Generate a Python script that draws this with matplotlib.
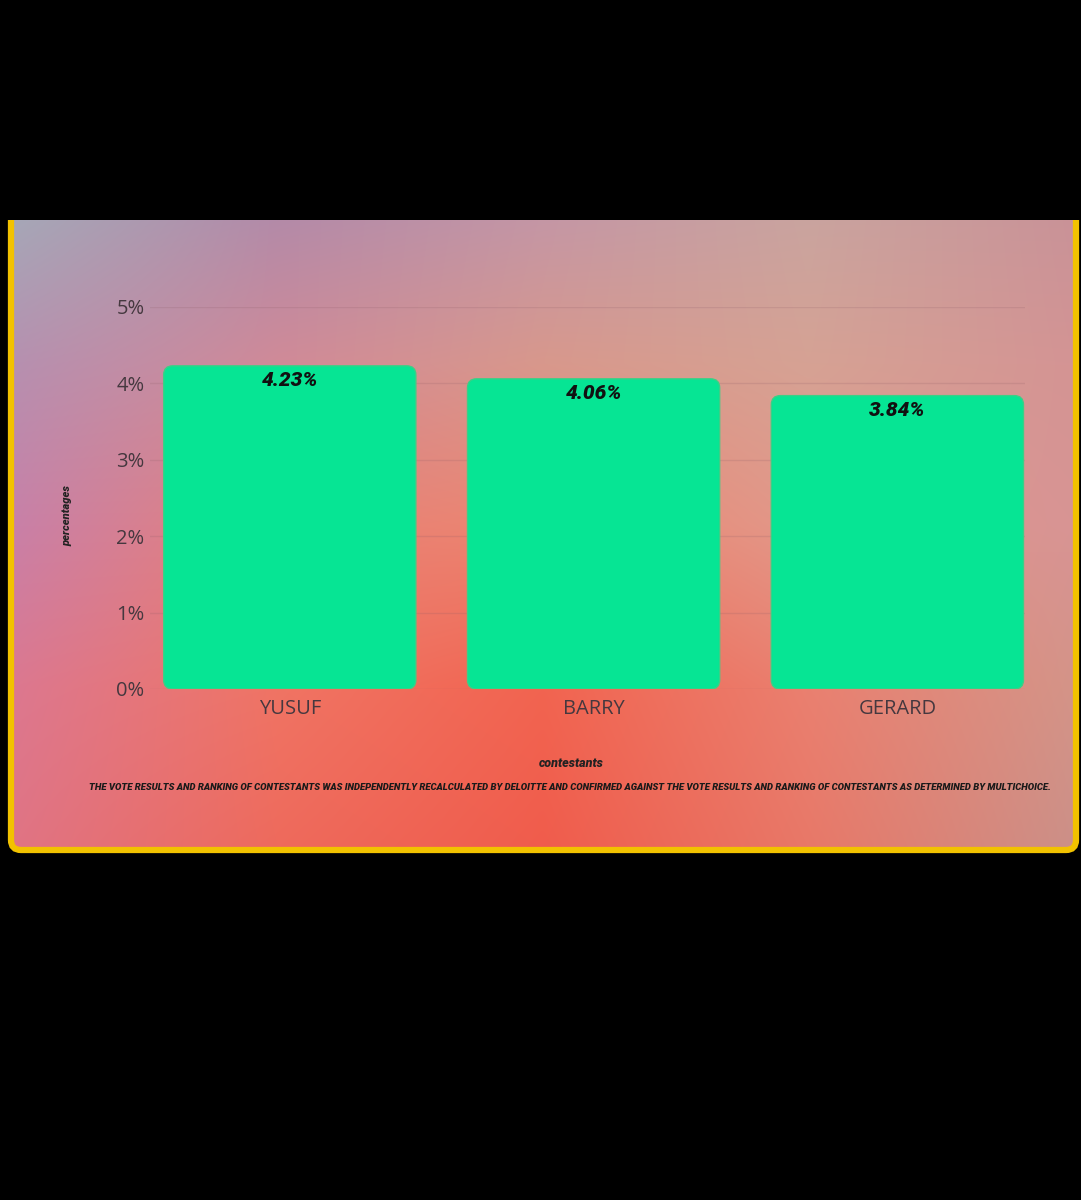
import numpy as np
import matplotlib
matplotlib.use("Agg")
import matplotlib.pyplot as plt
from matplotlib.patches import FancyBboxPatch, Rectangle
from matplotlib.colors import to_rgb

contestants = ["YUSUF", "BARRY", "GERARD"]
percentages = [4.23, 4.06, 3.84]
yticks = [0, 1, 2, 3, 4, 5]
footnote = ("THE VOTE RESULTS AND RANKING OF CONTESTANTS WAS INDEPENDENTLY RECALCULATED BY DELOITTE "
            "AND CONFIRMED AGAINST THE VOTE RESULTS AND RANKING OF CONTESTANTS AS DETERMINED BY MULTICHOICE.")

# background colour control points (rows top->bottom, cols left->right)
bg_pts = [
    ["#a4aab8", "#b08aaa", "#c296a8", "#c8a4a0", "#c89298"],
    ["#b690b0", "#d08a98", "#d8988c", "#d6a294", "#d49494"],
    ["#c880a8", "#e88078", "#ec8670", "#e2988a", "#d89494"],
    ["#dc7890", "#f07464", "#f26450", "#ea8070", "#d49488"],
    ["#e07484", "#ee6a5c", "#f05c4c", "#e87868", "#cc9088"],
]

fig = plt.figure(figsize=(10.81, 12), dpi=100, facecolor="black")
W, H = 1081, 1200

# background axes in pixel coordinates
bg = fig.add_axes([0, 0, 1, 1], zorder=0)
bg.set_xlim(0, W)
bg.set_ylim(H, 0)
bg.axis("off")
bg.set_facecolor("black")

grid = np.array([[to_rgb(c) for c in row] for row in bg_pts])
ny, nx = 200, 300
ys = np.linspace(0, len(bg_pts) - 1, ny)
xs = np.linspace(0, len(bg_pts[0]) - 1, nx)
img = np.zeros((ny, nx, 3))
for ch in range(3):
    tmp = np.array([np.interp(xs, np.arange(grid.shape[1]), grid[r, :, ch]) for r in range(grid.shape[0])])
    img[:, :, ch] = np.array([np.interp(ys, np.arange(grid.shape[0]), tmp[:, c]) for c in range(nx)]).T

panel = FancyBboxPatch((11, 200), 1065, 650, boxstyle="round,pad=0,rounding_size=10",
                       facecolor="none", edgecolor="#f2c200", linewidth=4.5, zorder=3)
bg.add_patch(panel)
im = bg.imshow(img, extent=(11, 1076, 850, 200), aspect="auto", interpolation="bicubic", zorder=1)
im.set_clip_path(panel)
bg.add_patch(Rectangle((0, 0), W, 220, facecolor="black", edgecolor="none", zorder=4))

# chart axes
ax = fig.add_axes([150 / W, 1 - 689 / H, (1025 - 150) / W, (689 - 307) / H], zorder=2)
ax.set_facecolor("none")
x = np.arange(len(contestants))
bars = ax.bar(x, percentages, width=0.83, color="none", edgecolor="none")
ax.set_xlim(-0.46, 2.42)
ax.set_ylim(0, 5)

aspect = (1025 - 150) / (ax.get_xlim()[1] - ax.get_xlim()[0]) / ((689 - 307) / 5)
for b in bars:
    fb = FancyBboxPatch((b.get_x(), b.get_y()), b.get_width(), b.get_height(),
                        boxstyle="round,pad=0,rounding_size=0.03", mutation_aspect=aspect,
                        facecolor="#06e594", edgecolor="#3ccf86", linewidth=1, zorder=3)
    ax.add_patch(fb)

cond = ["Roboto", "DejaVu Sans"]
for xi, v in zip(x, percentages):
    ax.text(xi, v - 0.19, f"{v:.2f}%", ha="center", va="center", fontsize=15,
            fontweight="black", fontstyle="italic", family=cond, color="#111111", zorder=4)

ax.set_yticks(yticks)
ax.set_yticklabels([f"{t}%" for t in yticks])
ax.set_xticks(x)
ax.set_xticklabels(contestants)
ax.tick_params(length=0, labelsize=14.5, labelcolor="#45383f", pad=7)
ax.tick_params(axis="y", pad=4)
for lab in ax.get_xticklabels() + ax.get_yticklabels():
    lab.set_family(["Open Sans", "DejaVu Sans"])
ax.yaxis.grid(True, color="#8a5a66", alpha=0.18, linewidth=1)
ax.set_axisbelow(True)
for s in ax.spines.values():
    s.set_visible(False)

ax.set_ylabel("percentages", fontsize=8, fontweight="black", fontstyle="italic",
              family=cond, color="#222222")
ax.yaxis.set_label_coords(-0.089, 0.455)
ax.set_xlabel("contestants", fontsize=9, fontweight="black", fontstyle="italic",
              family=cond, color="#222222")
ax.xaxis.set_label_coords(0.482, -0.178)

fig.text(570 / W, 1 - 788 / H, footnote, ha="center", va="center", fontsize=6.8,
         fontweight="black", fontstyle="italic", family=cond, color="#1a1a1a")

fig.savefig("out.png", dpi=100, facecolor="black")
